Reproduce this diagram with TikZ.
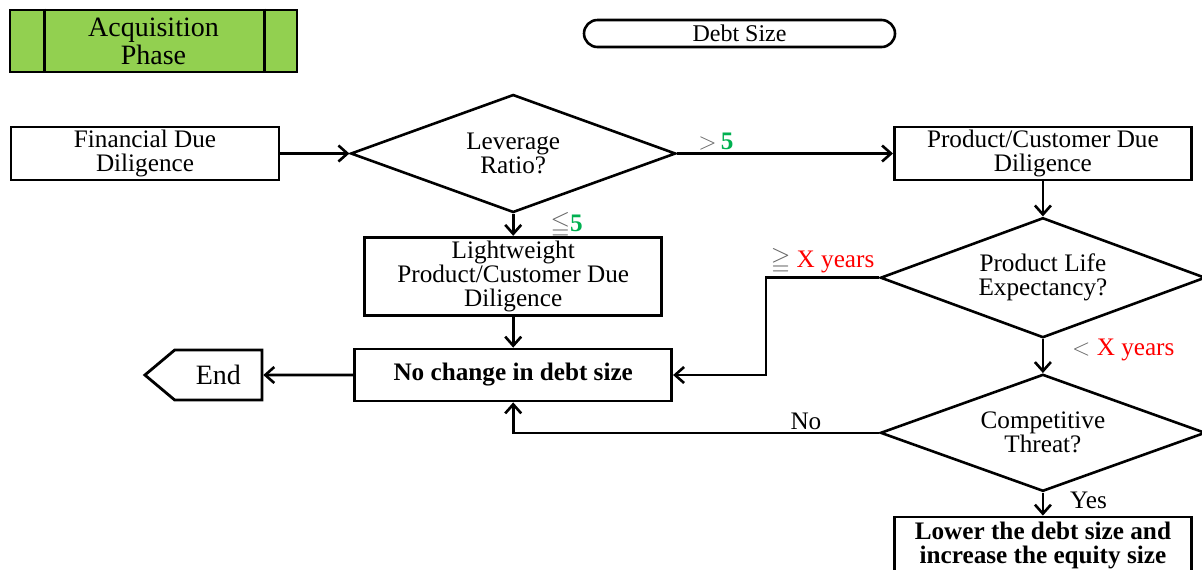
\documentclass[tikz,border=0pt]{standalone}
\usepackage{fontspec}
\setmainfont{Liberation Serif}
\usepackage{amssymb}
\usepackage{xcolor}
\usetikzlibrary{positioning,arrows.meta,shapes.geometric,shapes.misc,shapes.symbols}
\definecolor{phasegreen}{HTML}{92D050}
\definecolor{okgreen}{HTML}{00B050}
\definecolor{symgrey}{HTML}{666666}
\tikzset{>={Straight Barb[width=8pt,length=4.5pt]}}
\tikzstyle{plain-box}=[rectangle, draw=black, line width=1.4pt, align=center, inner sep=0pt, font=\fontsize{12.6}{12}\selectfont]
\tikzstyle{bold-box}=[plain-box, font=\fontsize{12.6}{12}\selectfont\bfseries]
\tikzstyle{decision}=[diamond, draw=black, line width=1.3pt, aspect=2.7, inner sep=0pt, align=center, minimum width=162.5pt, minimum height=59pt, font=\fontsize{12.6}{12}\selectfont]
\tikzstyle{flow}=[->, line width=1.3pt]
\tikzstyle{cond}=[inner sep=1pt, font=\fontsize{12.6}{12}\selectfont]

\begin{document}
\begin{tikzpicture}[x=0.5pt, y=-0.5pt]
\useasboundingbox (0,0) rectangle (1202,569);

	% header
	\node[plain-box, fill=phasegreen, minimum width=143.5pt, minimum height=31pt, font=\fontsize{14}{14}\selectfont] (phase) at (153.5,41) {Acquisition\\Phase};
	\draw[line width=1.4pt] ([xshift=18pt]phase.north west) -- ([xshift=18pt]phase.south west);
	\draw[line width=1.4pt] ([xshift=-17pt]phase.north east) -- ([xshift=-17pt]phase.south east);
	\node[rounded rectangle, draw=black, line width=1.3pt, minimum width=155.5pt, minimum height=13.5pt, inner sep=0pt, font=\fontsize{12}{12}\selectfont] (debt) at (739.5,33.5) {Debt Size};

	% boxes and decisions
	\node[plain-box, minimum width=134pt, minimum height=26.5pt] (financial) at (145,153.5) {Financial Due\\Diligence};
	\node[decision] (leverage) [right=34.5pt of financial] {Leverage\\Ratio?};
	\node[plain-box, minimum width=148.5pt, minimum height=26.5pt] (product) [right=108pt of leverage] {Product/Customer Due\\Diligence};
	\node[plain-box, minimum width=148.5pt, minimum height=39pt] (lightweight) [below=11pt of leverage] {Lightweight\\Product/Customer Due\\Diligence};
	\node[bold-box, minimum width=158.5pt, minimum height=26pt] (nochange) [below=15.5pt of lightweight] {No change in debt size};
	\node[signal, signal to=west, signal pointer angle=80, draw=black, line width=1.4pt, minimum width=58.5pt, minimum height=25pt, inner sep=0pt, font=\fontsize{14}{14}\selectfont] (end) [left=45pt of nochange] {End};
	\node[decision, minimum height=60pt] (lifetime) [below=17.5pt of product] {Product Life\\Expectancy?};
	\node[decision, minimum height=58.5pt] (threat) [below=17pt of lifetime] {Competitive\\Threat?};
	\node[bold-box, minimum width=148.5pt, minimum height=28pt] (lower) [below=11.5pt of threat] {Lower the debt size and\\increase the equity size};
	\coordinate (elbow) at ([xshift=-56.5pt]lifetime.west);

	% connectors
	\draw[flow] (financial) -- (leverage);
	\draw[flow] (leverage) -- node[cond, above, pos=0.18] {\textcolor{symgrey}{$>$}\,\textcolor{okgreen}{\textbf{5}}} (product);
	\draw[flow] (leverage) -- node[cond, right, xshift=17pt] {\textcolor{symgrey}{$\leqq$}\textcolor{okgreen}{\textbf{5}}} (lightweight);
	\draw[flow] (product) -- (lifetime);
	\draw[flow] (lifetime.west) -- node[cond, above] {\textcolor{symgrey}{$\geqq$} \textcolor{red}{X years}} (elbow) |- (nochange.east);
	\draw[flow] (lifetime) -- node[cond, right, xshift=13pt, pos=0.32] {\textcolor{symgrey}{$<$} \textcolor{red}{X years}} (threat);
	\draw[flow] (lightweight) -- (nochange);
	\draw[flow] (nochange) -- (end);
	\draw[flow] (threat.west) -| node[cond, above, pos=0.1] {No} (nochange.south);
	\draw[flow] (threat) -- node[cond, right, xshift=12pt, pos=0.35] {Yes} (lower);
\end{tikzpicture}
\end{document}
